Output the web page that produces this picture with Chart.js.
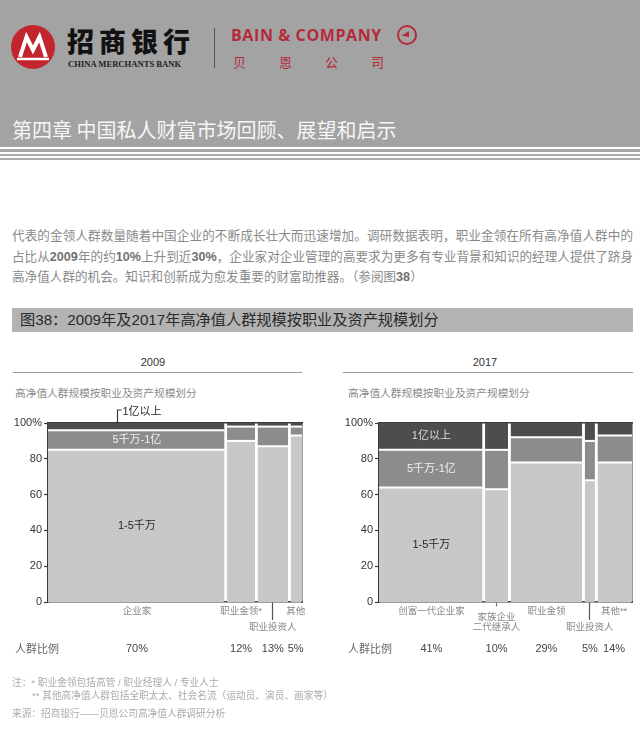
<!DOCTYPE html>
<html>
<head>
<meta charset="utf-8">
<script src="https://cdn.jsdelivr.net/npm/chart.js@4"></script>
<style>
  body { margin: 0; width: 640px; height: 736px; background: #fff; position: relative; overflow: hidden;
         font-family: "Liberation Sans", "Noto Sans CJK SC", sans-serif; }
  .abs { position: absolute; white-space: nowrap; }
  .body-line { position: absolute; left: 12px; width: 621px; font-size: 12.6px; line-height: 20.5px; color: #8a8a8a; white-space: nowrap; }
  .body-line b { color: #707070; }
  .just { text-align: justify; text-align-last: justify; }
  canvas { position: absolute; }
</style>
</head>
<body>

<!-- en-tête gris -->
<div class="abs" style="left:0;top:0;width:640px;height:147px;background:#a3a3a3;"></div>
<div class="abs" style="left:0;top:149px;width:640px;height:2.5px;background:#a9a9a9;"></div>
<div class="abs" style="left:0;top:153.5px;width:640px;height:2.5px;background:#a9a9a9;"></div>
<div class="abs" style="left:0;top:158px;width:640px;height:2px;background:#adadad;"></div>

<svg class="abs" style="left:0;top:0" width="640" height="100">
  <circle cx="33" cy="47" r="22" fill="#c2252e"/>
  <polyline points="20,57 26.5,37 33,50 39.5,37 46,57" fill="none" stroke="#fff" stroke-width="4" stroke-linejoin="miter"/>
  <line x1="17" y1="59" x2="49" y2="59" stroke="#fff" stroke-width="2.5"/>
  <line x1="214.5" y1="28" x2="214.5" y2="68" stroke="#555" stroke-width="1"/>
  <circle cx="407" cy="35" r="9" fill="none" stroke="#b52a3a" stroke-width="2"/>
  <polygon points="401.5,35.5 409,31 409,37" fill="#b52a3a"/>
</svg>
<div class="abs" style="left:67px;top:24px;font-size:27px;line-height:34px;font-weight:900;letter-spacing:5px;color:#111;font-family:'Noto Sans CJK SC';">招商银行</div>
<div class="abs" style="left:68px;top:59px;font-size:8.6px;line-height:10px;font-weight:bold;color:#222;font-family:'Liberation Serif';">CHINA MERCHANTS BANK</div>
<div class="abs" style="left:231px;top:25px;font-size:16px;line-height:20px;font-weight:700;letter-spacing:0.6px;color:#b52a3a;font-family:'Open Sans';">BAIN &amp; COMPANY</div>
<div class="abs" style="left:233px;top:54px;font-size:13px;line-height:16px;letter-spacing:33px;color:#b52a3a;font-family:'Noto Sans CJK SC';">贝恩公司</div>
<div class="abs" style="left:12px;top:118px;font-size:20px;line-height:24px;color:#f6f6f6;font-family:'Noto Sans CJK SC';">第四章 中国私人财富市场回顾、展望和启示</div>

<!-- texte -->
<div class="body-line just" style="top:226px;">代表的金领人群数量随着中国企业的不断成长壮大而迅速增加。调研数据表明，职业金领在所有高净值人群中的</div>
<div class="body-line just" style="top:247px;">占比从<b>2009</b>年的约<b>10%</b>上升到近<b>30%</b>，企业家对企业管理的高要求为更多有专业背景和知识的经理人提供了跻身</div>
<div class="body-line" style="top:267px;">高净值人群的机会。知识和创新成为愈发重要的财富助推器。（参阅图<b>38</b>）</div>

<div class="abs" style="left:12px;top:308px;width:621px;height:24px;background:#b3b3b3;"></div>
<div class="abs" style="left:20px;top:308px;font-size:15.2px;line-height:24px;color:#2a2a2a;">图38：2009年及2017年高净值人群规模按职业及资产规模划分</div>

<!-- titres des deux graphiques -->
<div class="abs" style="left:103px;top:355px;width:100px;text-align:center;font-size:11px;line-height:14px;color:#333;">2009</div>
<div class="abs" style="left:13px;top:372px;width:289px;height:1px;background:#9a9a9a;"></div>
<div class="abs" style="left:15px;top:386px;font-size:10.7px;line-height:14px;color:#8a8a8a;">高净值人群规模按职业及资产规模划分</div>

<div class="abs" style="left:435px;top:355px;width:100px;text-align:center;font-size:11px;line-height:14px;color:#333;">2017</div>
<div class="abs" style="left:343px;top:372px;width:290px;height:1px;background:#9a9a9a;"></div>
<div class="abs" style="left:348px;top:386px;font-size:10.7px;line-height:14px;color:#8a8a8a;">高净值人群规模按职业及资产规模划分</div>

<canvas id="c2009" width="320" height="266" style="left:0;top:400px;"></canvas>
<canvas id="c2017" width="320" height="266" style="left:320px;top:400px;"></canvas>

<div class="abs" style="left:15px;top:642px;font-size:11px;line-height:14px;color:#666;">人群比例</div>
<div class="abs" style="left:348px;top:642px;font-size:11px;line-height:14px;color:#666;">人群比例</div>

<!-- notes -->
<div class="abs" style="left:12px;top:677px;font-size:9.7px;line-height:12px;color:#ababab;">注：* 职业金领包括高管 / 职业经理人 / 专业人士</div>
<div class="abs" style="left:32px;top:690px;font-size:9.7px;line-height:12px;color:#ababab;">** 其他高净值人群包括全职太太、社会名流（运动员、演员、画家等）</div>
<div class="abs" style="left:12px;top:708px;font-size:9.7px;line-height:12px;color:#ababab;">来源：招商银行——贝恩公司高净值人群调研分析</div>

<script>
// Données
const tierNames = ['1-5千万', '5千万-1亿', '1亿以上'];

const groups2009 = ['企业家', '职业金领*', '职业投资人', '其他'];
const share2009 = [70, 12, 13, 5];
const low2009 = [85, 90, 87, 93];   // 1-5千万
const mid2009 = [11, 8, 11, 5];     // 5千万-1亿
const top2009 = [4, 2, 2, 2];       // 1亿以上

const groups2017 = ['创富一代企业家', ['家族企业', '二代继承人'], '职业金领', '职业投资人', '其他**'];
const share2017 = [41, 10, 29, 5, 14];
const low2017 = [64, 63, 78, 68, 78];
const mid2017 = [21, 22, 14, 22, 15];
const top2017 = [15, 15, 8, 10, 7];

const yTicks = [0, 20, 40, 60, 80, 100];

const FONT = '"Liberation Sans", "Noto Sans CJK SC", sans-serif';
const DARK = '#3a3a3a';
const tierColors = ['#c8c8c8', '#8c8c8c', '#4d4d4d'];
const tierLabelColors = ['#262626', '#f2f2f2', '#dadada'];
const GAP = 1; // espace blanc entre colonnes (unités x)

// libellés dans la première colonne + renvoi "1亿以上" pour 2009
const segLabels = {
    id: 'segLabels',
    afterDatasetsDraw(chart, args, opts) {
        const { ctx } = chart;
        const x = chart.scales.x;
        const y = chart.scales.y;
        ctx.save();
        ctx.font = '11px ' + FONT;
        ctx.textAlign = 'center';
        ctx.textBaseline = 'middle';
        const cx = x.getPixelForValue(opts.shares[0] / 2);
        let lo = 0;
        opts.tiers.forEach((tier, t) => {
            const hi = lo + tier[0];
            if (!(opts.callout && t === opts.tiers.length - 1)) {
                ctx.fillStyle = tierLabelColors[t];
                ctx.fillText(tierNames[t], cx, y.getPixelForValue((lo + hi) / 2));
            }
            lo = hi;
        });
        if (opts.callout) {
            const bx = Math.round(x.getPixelForValue(opts.shares[0] * 0.39)) + 0.5;
            const by = y.getPixelForValue(100);
            ctx.strokeStyle = DARK;
            ctx.lineWidth = 1.2;
            ctx.beginPath();
            ctx.moveTo(bx, by);
            ctx.lineTo(bx, by - 13);
            ctx.lineTo(bx + 4, by - 13);
            ctx.stroke();
            ctx.fillStyle = '#262626';
            ctx.textAlign = 'left';
            ctx.fillText(tierNames[2], bx + 5, by - 11);
        }
        ctx.restore();
    }
};

function makeChart(id, cfg) {
    const total = cfg.shares.reduce((a, b) => a + b, 0);
    const centers = [];
    let acc = 0;
    cfg.shares.forEach(s => { centers.push(acc + s / 2); acc += s; });

    const tiers = [cfg.low, cfg.mid, cfg.top];
    const datasets = [];
    let xs = 0;
    cfg.shares.forEach((s, i) => {
        const x0 = i === 0 ? xs : xs + GAP / 2;
        const x1 = i === cfg.shares.length - 1 ? xs + s : xs + s - GAP / 2;
        let lo = 0;
        tiers.forEach((tier, t) => {
            const hi = lo + tier[i];
            datasets.push({
                data: [{ x: x0, y: hi }, { x: x1, y: hi }],
                fill: { value: lo },
                backgroundColor: tierColors[t],
                borderColor: '#ffffff',
                borderWidth: t === tiers.length - 1 ? 0 : 2,
                pointRadius: 0,
                tension: 0,
                xAxisID: 'x',
                yAxisID: 'y'
            });
            lo = hi;
        });
        xs += s;
    });

    const setCenters = scale => { scale.ticks = centers.map(v => ({ value: v })); };

    return new Chart(document.getElementById(id), {
        type: 'line',
        data: { datasets },
        options: {
            responsive: false,
            animation: false,
            events: [],
            layout: { padding: { top: 23, right: cfg.padRight, left: 0, bottom: 0 } },
            plugins: {
                legend: { display: false },
                tooltip: { enabled: false },
                filler: { drawTime: 'beforeDatasetsDraw' },
                segLabels: { shares: cfg.shares, tiers, callout: cfg.callout }
            },
            scales: {
                x: {
                    type: 'linear', position: 'bottom', min: 0, max: total,
                    afterBuildTicks: setCenters,
                    afterFit: s => { s.height = 34; },
                    border: { color: DARK, width: 1.5 },
                    grid: {
                        drawOnChartArea: false,
                        tickLength: 18,
                        tickWidth: 1.2,
                        tickColor: c => c.index === cfg.leader ? '#555' : (Array.isArray(cfg.groups[c.index]) ? '#777' : 'transparent'),
                        tickBorderDash: c => Array.isArray(cfg.groups[c.index]) ? [4, 40] : []
                    },
                    ticks: {
                        autoSkip: false, maxRotation: 0, minRotation: 0,
                        padding: -17,
                        color: '#888',
                        font: c => ({ family: FONT, size: 9.5, lineHeight: Array.isArray(cfg.groups[c.index]) ? '9.8px' : '16.5px' }),
                        callback: (v, i) => {
                            const g = cfg.groups[i];
                            if (Array.isArray(g)) return [''].concat(g);
                            return i === cfg.leader ? ['', g] : g;
                        }
                    }
                },
                xp: {
                    type: 'linear', position: 'bottom', min: 0, max: total,
                    afterBuildTicks: setCenters,
                    afterFit: s => { s.height = 30; },
                    border: { display: false },
                    grid: { drawOnChartArea: false, drawTicks: false },
                    ticks: {
                        autoSkip: false, maxRotation: 0, padding: 6,
                        color: '#444',
                        font: { family: FONT, size: 11 },
                        callback: (v, i) => cfg.shares[i] + '%'
                    }
                },
                xt: {
                    type: 'linear', position: 'top', min: 0, max: total,
                    afterFit: s => { s.height = 0; },
                    border: { color: DARK, width: 1.5 },
                    grid: { drawOnChartArea: false, drawTicks: false },
                    ticks: { display: false }
                },
                y: {
                    type: 'linear', position: 'left', min: 0, max: 100,
                    afterBuildTicks: s => { s.ticks = yTicks.map(v => ({ value: v })); },
                    afterFit: s => { s.width = cfg.yWidth; },
                    border: { color: DARK, width: 1.5 },
                    grid: { drawOnChartArea: false, tickLength: 4, tickColor: DARK, tickWidth: 1.2 },
                    ticks: {
                        padding: 2,
                        color: '#333',
                        font: { family: FONT, size: 11 },
                        callback: v => v === 100 ? '100%' : v
                    }
                },
                yr: {
                    type: 'linear', position: 'right', min: 0, max: 100,
                    afterFit: s => { s.width = 0; },
                    border: { color: DARK, width: 1.5 },
                    grid: { drawOnChartArea: false, drawTicks: false },
                    ticks: { display: false }
                }
            }
        },
        plugins: [segLabels]
    });
}

makeChart('c2009', {
    groups: groups2009, shares: share2009,
    low: low2009, mid: mid2009, top: top2009,
    leader: 2, callout: true, yWidth: 48, padRight: 18
});

makeChart('c2017', {
    groups: groups2017, shares: share2017,
    low: low2017, mid: mid2017, top: top2017,
    leader: 3, callout: false, yWidth: 59, padRight: 8
});
</script>
</body>
</html>
